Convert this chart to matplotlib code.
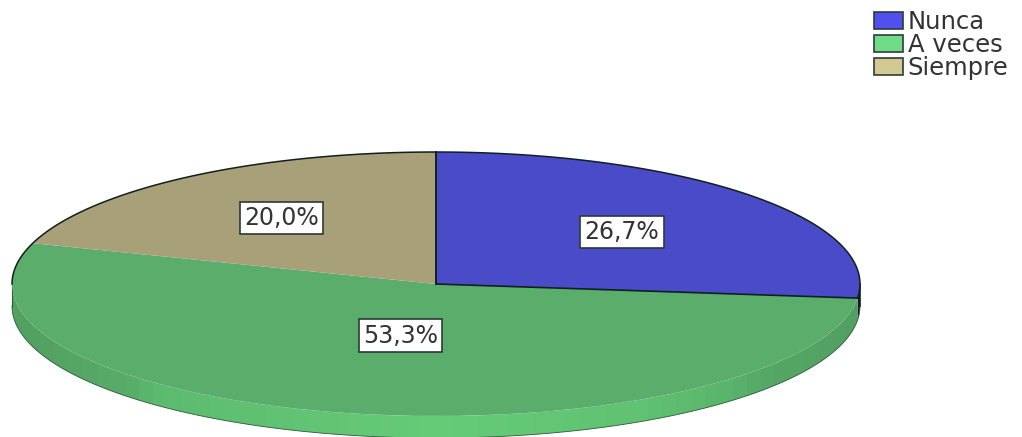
import numpy as np
import matplotlib
matplotlib.use('Agg')
import matplotlib.pyplot as plt
from matplotlib.colors import LinearSegmentedColormap
from matplotlib.patches import Patch, Polygon

categories = ['Nunca', 'A veces', 'Siempre']
values = [26.7, 53.3, 20.0]
pct_labels = ['26,7%', '53,3%', '20,0%']
# how far out each label sits along the middle of its slice
label_radius = [0.59, 0.40, 0.62]
top_colors = ['#4a4bc8', '#5aad6a', '#a8a078']
legend_colors = ['#5050ee', '#70dc88', '#d2ca92']

W, H = 1022, 437
cx, cy, rx, ry = 436, 284, 424, 132
depth = 22 / ry


def arc(t1, t2, off=0.0):
    t = np.radians(np.linspace(t1, t2, 120))
    return np.column_stack([np.cos(t), np.sin(t) + off])


fig = plt.figure(figsize=(W / 100, H / 100), dpi=100)
ax = fig.add_axes([0, 0, 1, 1])
wedges, _ = ax.pie(values, colors=top_colors, startangle=90, counterclock=False,
                   radius=1, wedgeprops=dict(linewidth=0, zorder=3))
ax.set_aspect('auto')

side_cmap = LinearSegmentedColormap.from_list(
    'side', [(0, '#52a062'), (0.13, '#58ac68'), (0.17, '#5dbb70'), (0.5, '#66cc78'),
             (0.75, '#60c272'), (0.86, '#5ab36c'), (0.89, '#56a866'), (1, '#529f62')])
grad = np.linspace(0, 1, 60).reshape(1, -1)

for w in wedges:
    lo, hi = max(w.theta1, -180), min(w.theta2, 0)
    if lo >= hi:
        continue
    poly = np.vstack([arc(lo, hi), arc(hi, lo, -depth)])
    if w.theta1 < -90:
        im = ax.imshow(grad, cmap=side_cmap, extent=(-1, 1, -1 - depth, 0), aspect='auto', zorder=1)
        clip = Polygon(poly, closed=True, fc='none', ec='none', transform=ax.transData)
        ax.add_patch(clip)
        im.set_clip_path(clip)
    else:
        ax.add_patch(Polygon(poly, closed=True, fc='#14143c', ec='none', zorder=1))
ax.set_xlim(-cx / rx, (W - cx) / rx)
ax.set_ylim((cy - H) / ry, cy / ry)

# outlines: top rim, slice borders and a thin one along the bottom
edge = '#10201c'
blue, green, tan = wedges
ax.plot(*arc(green.theta2, 180).T, color=edge, lw=1.1, zorder=4)
ax.plot(*arc(-180, 0, -depth).T, color='#2a5a38', lw=0.6, zorder=2)
ax.plot([-1, -1], [0, -depth], color='#2a5a38', lw=0.8, zorder=2)
ax.plot([1, 1], [0, -depth], color=edge, lw=1.2, zorder=2)
for t in [blue.theta1, blue.theta2, tan.theta1]:
    ang = np.radians(t)
    ax.plot([0, np.cos(ang)], [0, np.sin(ang)], color=edge, lw=1.2, zorder=4)

for w, lab, r in zip(wedges, pct_labels, label_radius):
    mid = np.radians((w.theta1 + w.theta2) / 2)
    ax.text(r * np.cos(mid), r * np.sin(mid), lab, ha='center', va='center',
            fontsize=17, color='#333333', family='DejaVu Sans', zorder=6,
            bbox=dict(boxstyle='square,pad=0.18', fc='white', ec='#2c3a34', lw=1.2))

handles = [Patch(fc=c, ec='#2c3c38', lw=1.2) for c in legend_colors]
fig.legend(handles, categories, loc='upper left', bbox_to_anchor=(859 / W, 1 + 5 / H),
           bbox_transform=fig.transFigure, frameon=False, borderpad=0.1,
           handlelength=1.2, handleheight=0.7, handletextpad=0.2, labelspacing=-0.03,
           labelcolor='#333333', prop=dict(family='DejaVu Sans', size=17.5))

fig.savefig('out.png', dpi=100)
